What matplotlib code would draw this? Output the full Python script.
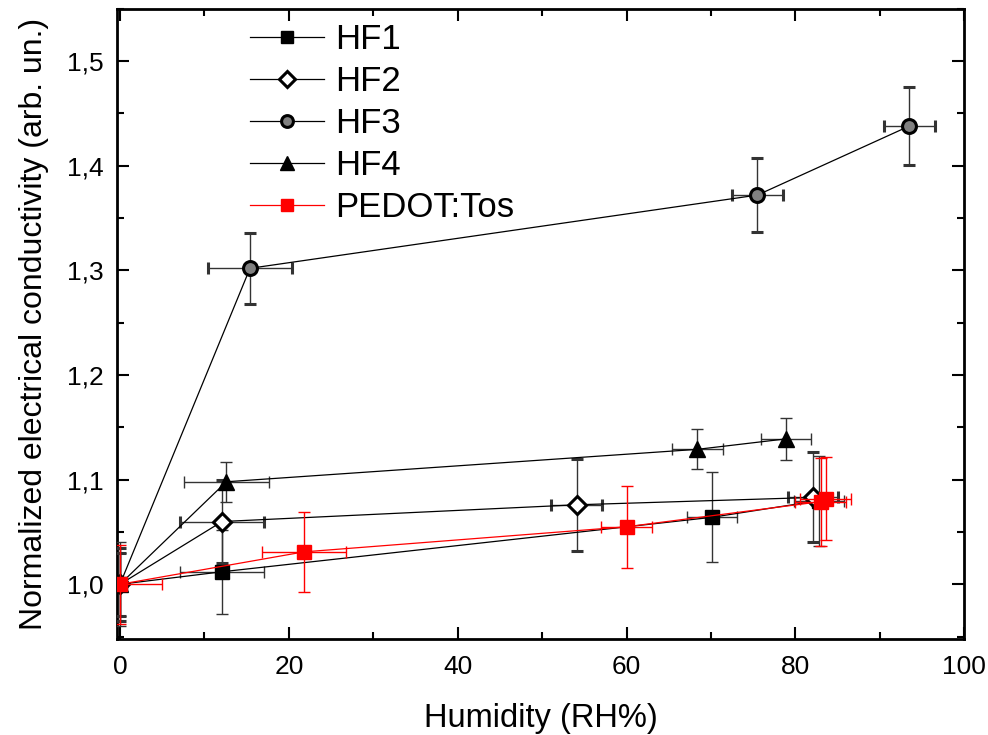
import matplotlib
matplotlib.use("Agg")
import matplotlib.pyplot as plt
from matplotlib.lines import Line2D
from matplotlib.ticker import MultipleLocator, FuncFormatter

plt.rcParams['font.family'] = ['Liberation Sans', 'DejaVu Sans']

# HF1 - filled black squares
hf1_x = [0.0, 12.1, 70.1, 82.8]
hf1_y = [1.000, 1.012, 1.064, 1.080]
hf1_xerr = [0.0, 5.0, 3.0, 3.0]
hf1_yerr = [0.040, 0.040, 0.043, 0.043]

# HF2 - open diamonds
hf2_x = [0.0, 12.1, 54.1, 82.1]
hf2_y = [1.000, 1.060, 1.076, 1.083]
hf2_xerr = [0.0, 5.0, 3.0, 3.0]
hf2_yerr = [0.035, 0.040, 0.044, 0.043]

# HF3 - gray circles
hf3_x = [0.0, 15.4, 75.5, 93.5]
hf3_y = [1.000, 1.302, 1.372, 1.438]
hf3_xerr = [0.0, 5.0, 3.0, 3.0]
hf3_yerr = [0.030, 0.034, 0.035, 0.037]

# HF4 - filled triangles
hf4_x = [0.0, 12.6, 68.4, 78.9]
hf4_y = [1.000, 1.098, 1.129, 1.139]
hf4_xerr = [0.0, 5.0, 3.0, 3.0]
hf4_yerr = [0.030, 0.019, 0.019, 0.020]

# PEDOT:Tos - red squares
ped_x = [0.0, 21.8, 60.0, 83.0, 83.6]
ped_y = [1.000, 1.031, 1.055, 1.079, 1.082]
ped_xerr = [5.0, 5.0, 3.0, 3.0, 3.0]
ped_yerr = [0.038, 0.038, 0.039, 0.042, 0.040]

fig = plt.figure(figsize=(9.88, 7.35), dpi=100)
ax = fig.add_axes([0.118, 0.131, 0.858, 0.857])

common = dict(capsize=4.5, elinewidth=1.0, capthick=1.0, linewidth=0.9)

styles = [
    dict(marker='s', color='black', markersize=10, markerfacecolor='black', markeredgewidth=1.0),
    dict(marker='D', color='black', markersize=9, markerfacecolor='white', markeredgewidth=2.2),
    dict(marker='o', color='black', markersize=10, markerfacecolor='#808080', markeredgewidth=2.2),
    dict(marker='^', color='black', markersize=12, markerfacecolor='black', markeredgewidth=1.0),
    dict(marker='s', color='red', markersize=10.5, markerfacecolor='red', markeredgecolor='red',
         markeredgewidth=1.0),
]
series = [
    ("HF1", hf1_x, hf1_y, hf1_xerr, hf1_yerr),
    ("HF2", hf2_x, hf2_y, hf2_xerr, hf2_yerr),
    ("HF3", hf3_x, hf3_y, hf3_xerr, hf3_yerr),
    ("HF4", hf4_x, hf4_y, hf4_xerr, hf4_yerr),
    ("PEDOT:Tos", ped_x, ped_y, ped_xerr, ped_yerr),
]

handles = []
for (name, x, y, xe, ye), st in zip(series, styles):
    ecol = 'red' if st['color'] == 'red' else '#333333'
    z = 4 if st['color'] == 'red' else 3
    ax.errorbar(x, y, xerr=xe, yerr=ye, ecolor=ecol, zorder=z, **common, **st)
    leg_st = dict(st)
    leg_st['markersize'] = st['markersize'] * 0.85
    handles.append(Line2D([], [], linewidth=0.9, label=name, **leg_st))

ax.set_xlim(-0.4, 100)
ax.set_ylim(0.948, 1.55)
ax.xaxis.set_major_locator(MultipleLocator(20))
ax.xaxis.set_minor_locator(MultipleLocator(10))
ax.yaxis.set_major_locator(MultipleLocator(0.1))
ax.yaxis.set_minor_locator(MultipleLocator(0.05))
ax.yaxis.set_major_formatter(FuncFormatter(lambda v, p: f"{v:.1f}".replace('.', ',')))

ax.tick_params(which='both', direction='in', top=True, right=True, width=1.5,
               labelsize=19)
ax.tick_params(which='major', length=8.5, pad=9)
ax.tick_params(axis='x', which='major', pad=12)
ax.tick_params(which='minor', length=5)
for s in ax.spines.values():
    s.set_linewidth(2)

ax.set_xlabel("Humidity (RH%)", fontsize=23.5, labelpad=17)
ax.set_ylabel("Normalized electrical conductivity (arb. un.)", fontsize=23, labelpad=13)

ax.legend(handles=handles, loc='upper left', bbox_to_anchor=(0.157, 0.977), frameon=False,
          fontsize=25, handlelength=2.15, handletextpad=0.32, labelspacing=0.26,
          borderpad=0, borderaxespad=0)

fig.savefig("out.png", dpi=100)
